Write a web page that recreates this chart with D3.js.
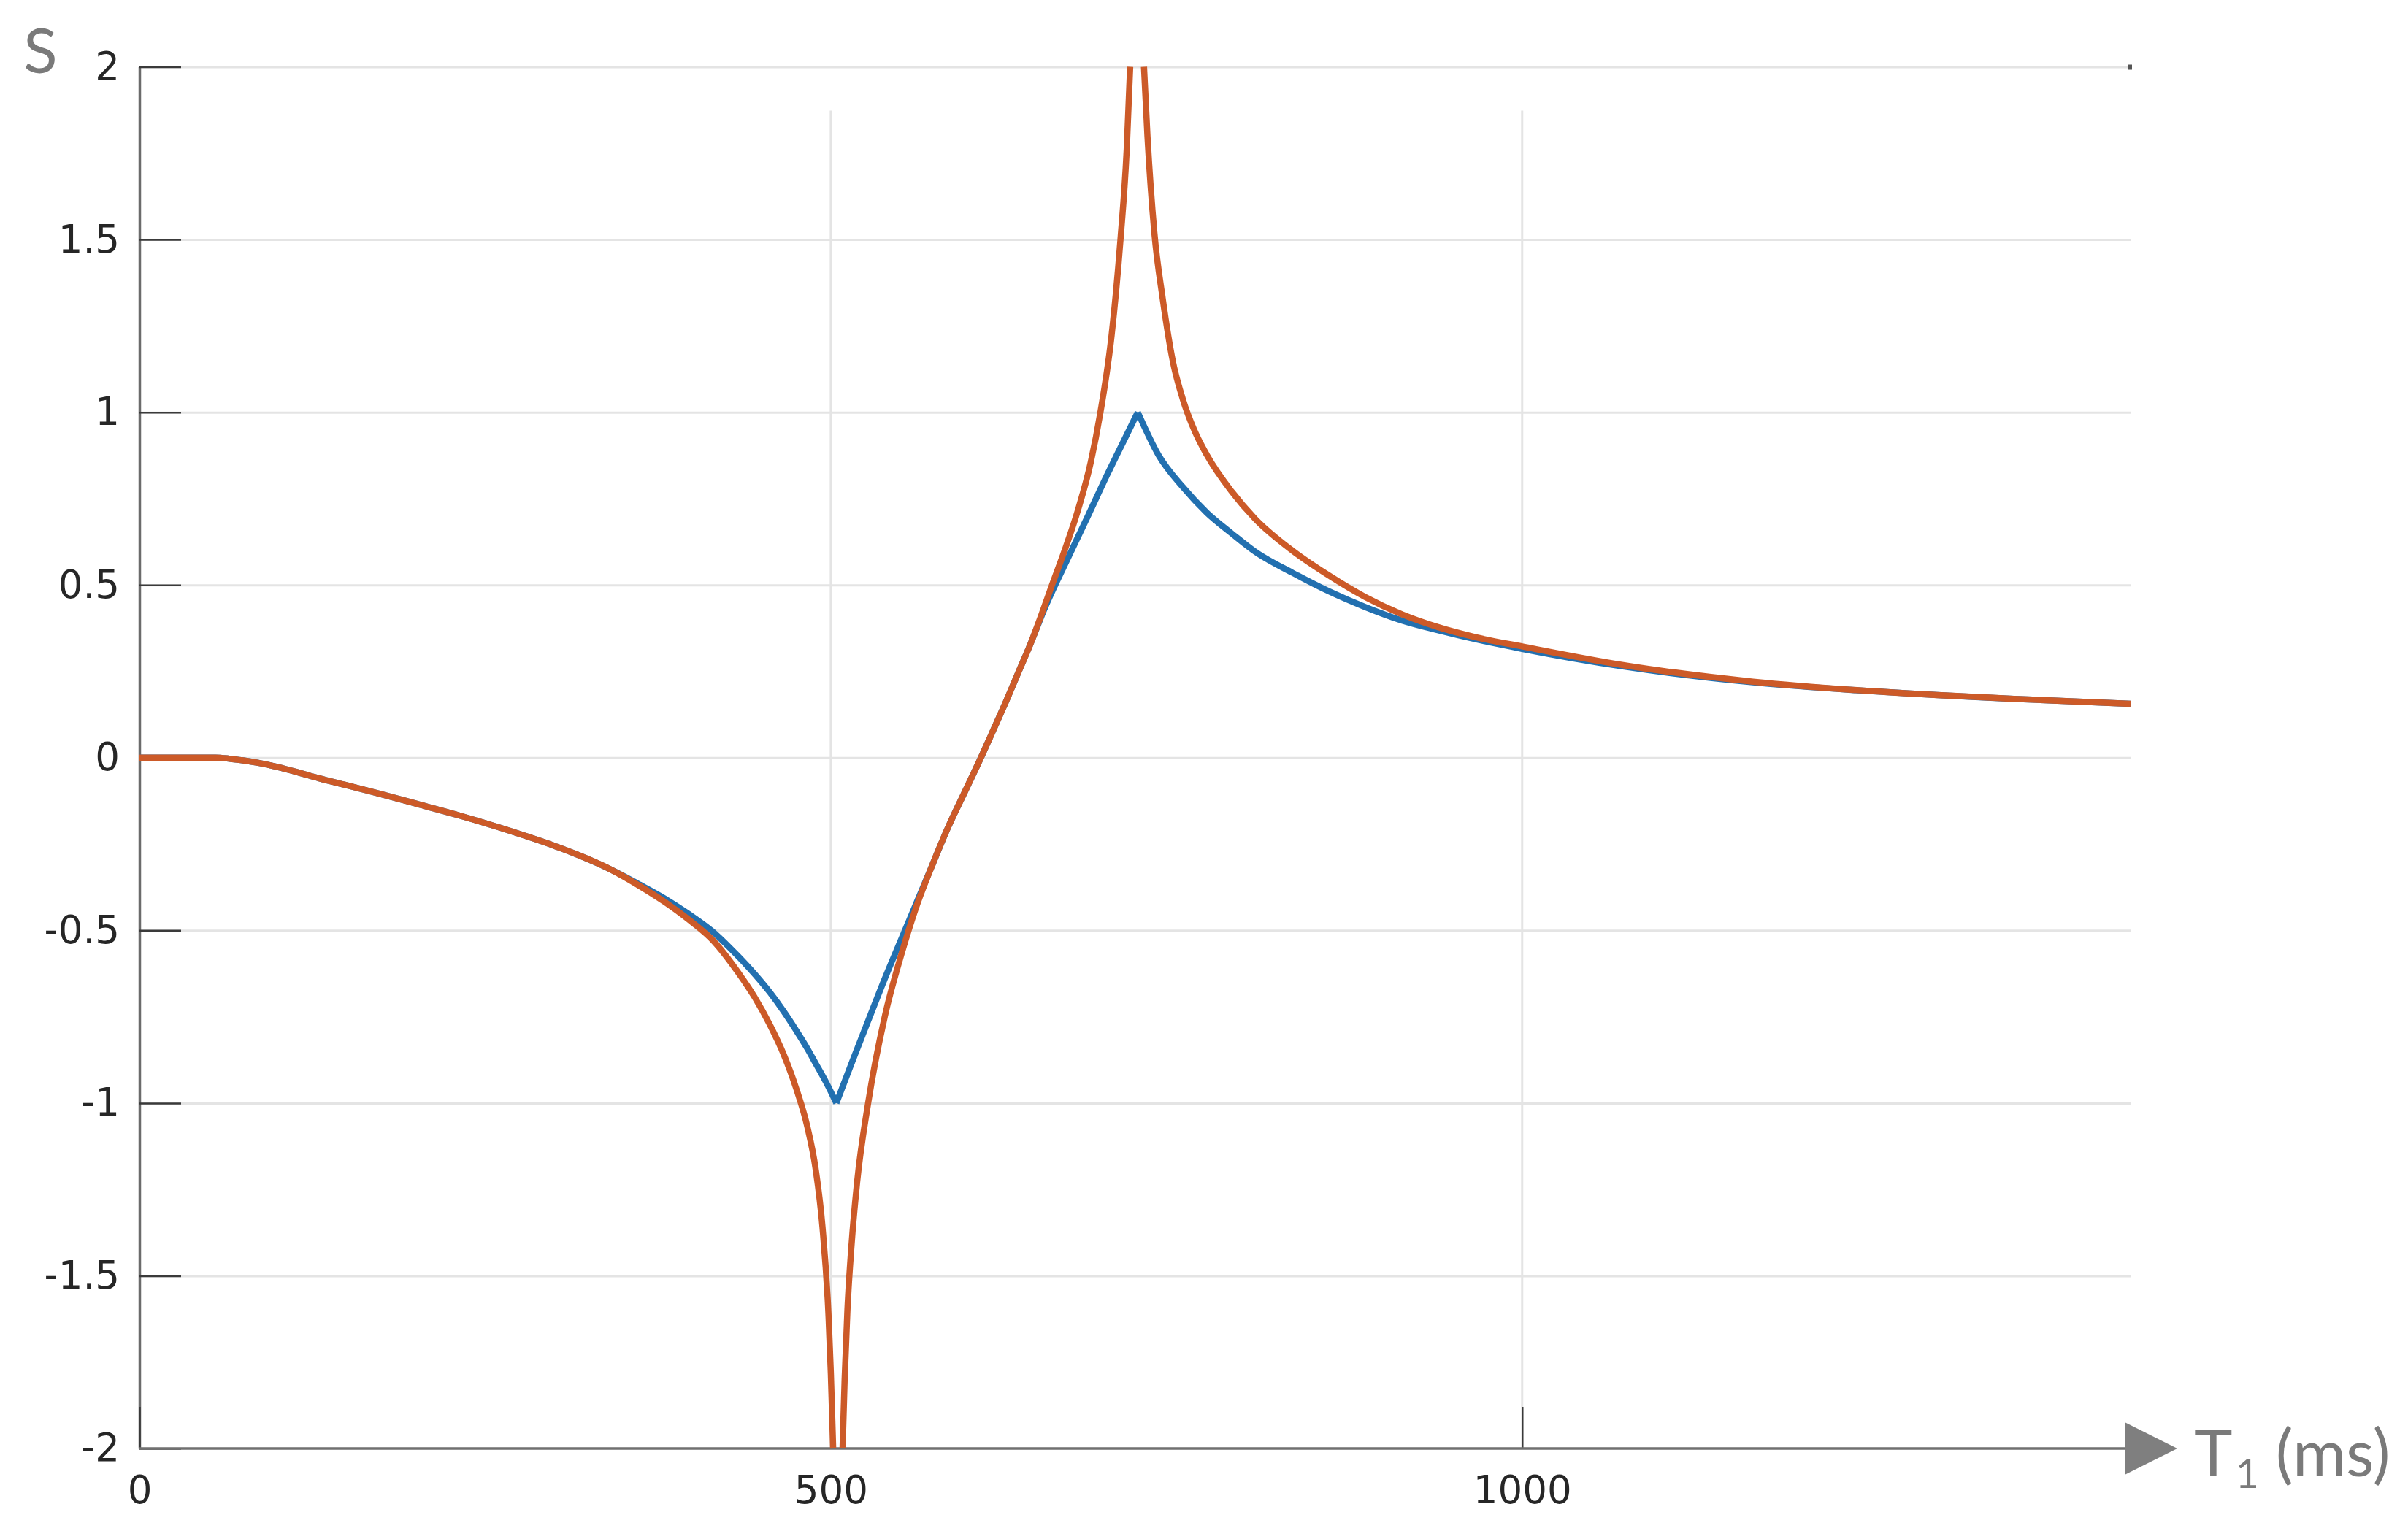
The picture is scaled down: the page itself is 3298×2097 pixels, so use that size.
<!DOCTYPE html>
<html>
<head>
<meta charset="utf-8">
<script src="https://cdn.jsdelivr.net/npm/d3@7"></script>
<style>
  html, body { margin: 0; padding: 0; background: #ffffff; }
  svg { display: block; }
</style>
</head>
<body>
<svg id="chart" width="3298" height="2097"></svg>
<script>
// ---------------- DATA ----------------
const xTicks = [0, 500, 1000];
const xTickLabels = ["0", "500", "1000"];
const yTicks = [-2, -1.5, -1, -0.5, 0, 0.5, 1, 1.5, 2];
const yTickLabels = ["-2", "-1.5", "-1", "-0.5", "0", "0.5", "1", "1.5", "2"];
const xLabel = "T";
const xLabelSub = "1";
const xLabelUnit = " (ms)";
const yLabel = "S";

// Blue series: T1 (ms) and S
const blueT = [0, 20, 40, 55, 65, 75, 86, 100, 115, 130, 150, 174, 200, 230, 268, 300, 315, 340, 362, 380,
  397, 415, 433, 445, 456, 466, 475, 483, 489, 497, 504,
  515, 527, 539, 551, 562, 574, 585, 598, 608, 617, 627, 636, 645, 655, 670, 686, 700, 712, 722,
  737, 754.5, 772, 790, 807, 834, 860, 886.5, 913, 939, 966, 1000, 1073, 1167, 1262, 1356, 1440];
const blueS = [0, 0, 0, 0, -0.003, -0.008, -0.015, -0.027, -0.043, -0.06, -0.08, -0.105, -0.133, -0.166, -0.212, -0.255, -0.278, -0.322, -0.368, -0.408,
  -0.452, -0.505, -0.575, -0.627, -0.68, -0.735, -0.79, -0.842, -0.885, -0.943, -1.0,
  -0.885, -0.762, -0.64, -0.525, -0.42, -0.305, -0.2, -0.09, -0.005, 0.075, 0.165, 0.25, 0.335, 0.435, 0.565, 0.70, 0.82, 0.918, 1.0,
  0.876, 0.784, 0.709, 0.649, 0.596, 0.535, 0.482, 0.436, 0.397, 0.369, 0.343, 0.315, 0.264, 0.218, 0.19, 0.17, 0.156];

// Orange series: T1 (ms) and S (null = curve leaves the plotted range)
const orangeT = [0, 20, 40, 55, 65, 75, 86, 100, 115, 130, 150, 174, 200, 230, 268, 300, 315, 340, 362, 380,
  397, 415, 433, 445, 456, 466, 475, 483, 489, 494, 498.4, 500, 501.7, 505,
  508.5, 510, 512, 515, 519, 527, 539, 551, 562, 574, 585, 598, 608, 617, 627, 636, 645, 652, 660, 670,
  679, 688, 695, 703, 709.5, 714, 716.5, 721,
  726.5, 729, 734, 740, 747.5, 754.5, 763, 772, 790, 807, 834, 860, 886.5, 913, 939, 966, 1000, 1073, 1167, 1262, 1356, 1440];
const orangeS = [0, 0, 0, 0, -0.003, -0.008, -0.015, -0.027, -0.043, -0.06, -0.08, -0.105, -0.133, -0.166, -0.212, -0.255, -0.278, -0.322, -0.372, -0.418,
  -0.468, -0.53, -0.622, -0.694, -0.774, -0.86, -0.958, -1.068, -1.19, -1.36, -1.62, -1.78, -2.0, null,
  -2.0, -1.8, -1.6, -1.41, -1.23, -1.0, -0.75, -0.57, -0.43, -0.305, -0.2, -0.09, -0.005, 0.075, 0.165, 0.25, 0.335, 0.41, 0.5, 0.61,
  0.72, 0.855, 1.0, 1.22, 1.5, 1.76, 2.0, null,
  2.0, 1.8, 1.52, 1.33, 1.145, 1.039, 0.947, 0.876, 0.77, 0.691, 0.599, 0.528, 0.465, 0.415, 0.378, 0.349, 0.322, 0.268, 0.22, 0.19, 0.17, 0.156];

const xDomain = [0, 1440];
const yDomain = [-2, 2];

// ---------------- CHART ----------------
const W = 3298, H = 2097;
const svg = d3.select("#chart");
svg.append("rect").attr("width", W).attr("height", H).attr("fill", "#ffffff");

const x = d3.scaleLinear().domain(xDomain).range([191, 2918]);
const y = d3.scaleLinear().domain(yDomain).range([1984, 91.5]);

const plotW = x.range()[1] - x.range()[0];
const gridColor = "#e4e4e4";

// horizontal grid
const gGridY = svg.append("g").attr("transform", `translate(${x(0)},0)`)
  .call(d3.axisLeft(y).tickValues(yTicks.filter(d => d > yDomain[0])).tickSize(-plotW).tickFormat(""));
gGridY.select(".domain").remove();
gGridY.selectAll("line").attr("stroke", gridColor).attr("stroke-width", 3);

// vertical grid (starts a little below the top, as in the reference)
const gridTop = y.range()[1] + 60;
svg.append("g").selectAll("line")
  .data(xTicks.filter(d => d > xDomain[0]))
  .join("line")
  .attr("x1", d => x(d)).attr("x2", d => x(d))
  .attr("y1", gridTop).attr("y2", y(yDomain[0]))
  .attr("stroke", gridColor).attr("stroke-width", 3);

// top-right corner mark
svg.append("rect")
  .attr("x", x(xDomain[1]) - 4).attr("y", y(yDomain[1]) - 3)
  .attr("width", 6).attr("height", 7).attr("fill", "#555");

// y axis
const gY = svg.append("g").attr("transform", `translate(${x(0)},0)`)
  .call(d3.axisLeft(y).tickValues(yTicks).tickSize(-57).tickSizeOuter(0).tickPadding(27)
    .tickFormat((d, i) => yTickLabels[i]));
gY.select(".domain").attr("stroke", "#6b6b6b").attr("stroke-width", 3.5);
gY.selectAll(".tick line").attr("stroke", "#3a3a3a").attr("stroke-width", 2.5);
gY.selectAll(".tick text")
  .attr("font-family", "'DejaVu Sans', sans-serif").attr("font-size", 53).attr("fill", "#262626");

// x axis
const gX = svg.append("g").attr("transform", `translate(0,${y(yDomain[0])})`)
  .call(d3.axisBottom(x).tickValues(xTicks).tickSize(-57).tickSizeOuter(0).tickPadding(37)
    .tickFormat((d, i) => xTickLabels[i]));
gX.select(".domain").remove();
gX.selectAll(".tick line").attr("stroke", "#3a3a3a").attr("stroke-width", 2.5);
gX.selectAll(".tick text")
  .attr("font-family", "'DejaVu Sans', sans-serif").attr("font-size", 53).attr("fill", "#262626");

// x axis line with arrow
const y0 = y(yDomain[0]);
const arrowBase = x(xDomain[1]) - 8;
const arrowTip = arrowBase + 72;
svg.append("line")
  .attr("x1", x(0)).attr("x2", arrowBase + 2)
  .attr("y1", y0).attr("y2", y0)
  .attr("stroke", "#707070").attr("stroke-width", 3.5);
svg.append("path")
  .attr("d", `M${arrowBase},${y0 - 36} L${arrowTip},${y0} L${arrowBase},${y0 + 36} Z`)
  .attr("fill", "#7f7f7f");

// axis labels
const lbl = svg.append("text")
  .attr("x", arrowTip + 23).attr("y", y0 + 38)
  .attr("font-family", "Lato, 'Open Sans', sans-serif").attr("font-size", 89).attr("fill", "#7a7a7a");
lbl.append("tspan").text(xLabel);
lbl.append("tspan").attr("font-size", 56).attr("dy", 16).attr("dx", 4).text(xLabelSub);
lbl.append("tspan").attr("dy", -16).text(xLabelUnit);

svg.append("text")
  .attr("x", 32).attr("y", 100)
  .attr("font-family", "Lato, 'Open Sans', sans-serif").attr("font-size", 86).attr("fill", "#7a7a7a")
  .text(yLabel);

// ---------------- CURVES ----------------
const line = d3.line()
  .defined(d => d[1] !== null)
  .x(d => x(d[0])).y(d => y(d[1]))
  .curve(d3.curveMonotoneX);

// blue: split at its cusps so the corners stay sharp
const bluePts = blueT.map((t, i) => [t, blueS[i]]);
const iMin = d3.minIndex(blueS), iMax = d3.maxIndex(blueS);
const blueSegs = [bluePts.slice(0, iMin + 1), bluePts.slice(iMin, iMax + 1), bluePts.slice(iMax)];
svg.append("g").selectAll("path").data(blueSegs).join("path")
  .attr("d", line)
  .attr("fill", "none").attr("stroke", "#2270b0").attr("stroke-width", 8.5)
  .attr("stroke-linejoin", "round");

const orangePts = orangeT.map((t, i) => [t, orangeS[i]]);
svg.append("path")
  .datum(orangePts)
  .attr("d", line)
  .attr("fill", "none").attr("stroke", "#cc5a28").attr("stroke-width", 8.5)
  .attr("stroke-linejoin", "round");
</script>
</body>
</html>
